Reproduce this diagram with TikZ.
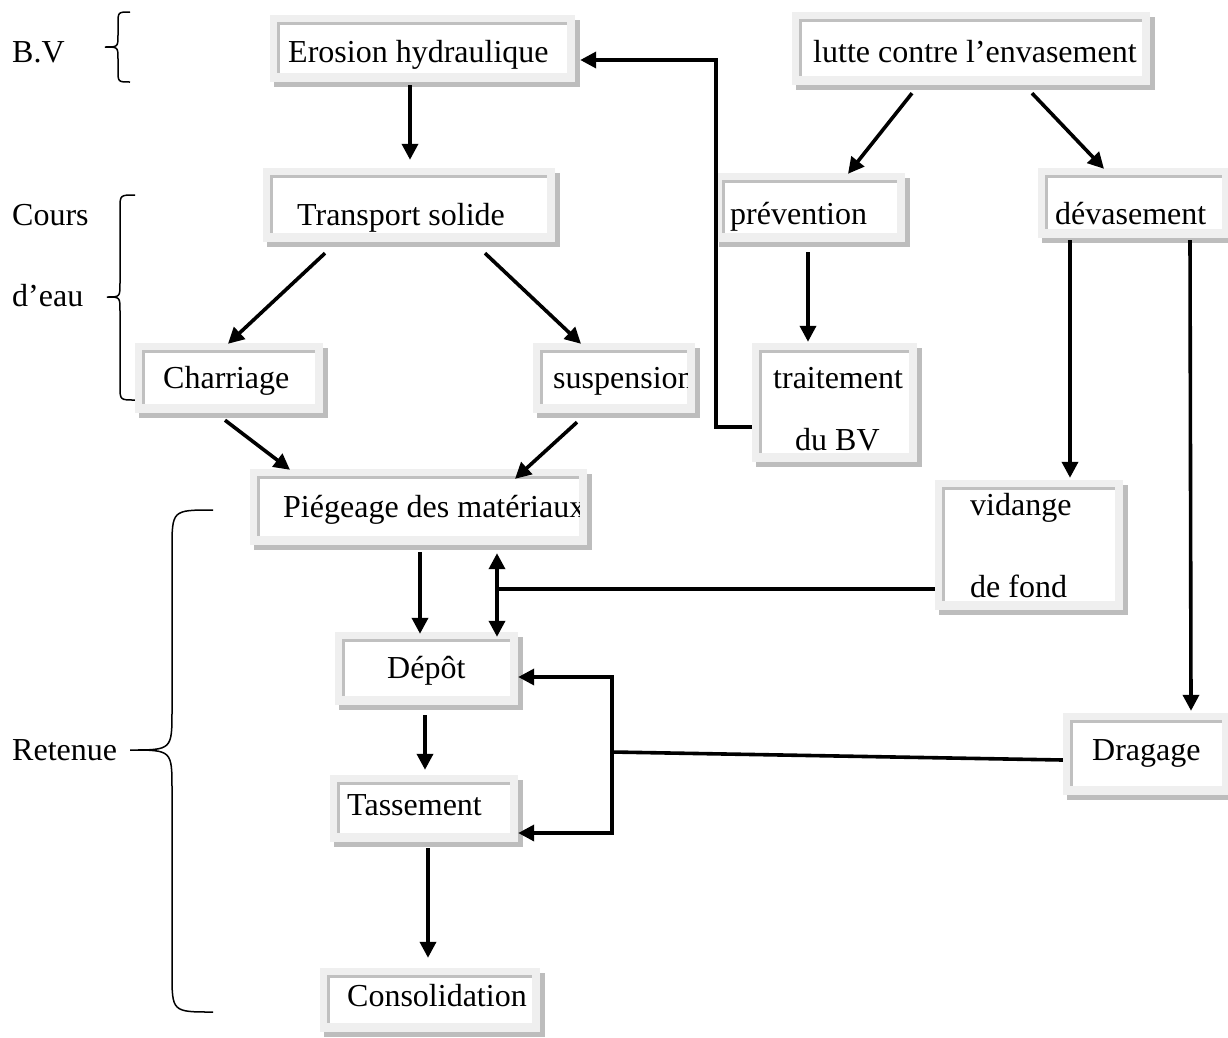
\documentclass[tikz,border=0pt]{standalone}
\usepackage{fontspec}
\setmainfont{Liberation Serif}
\usetikzlibrary{arrows.meta,calc,fit}
\definecolor{framec}{HTML}{EFEFEF}
\definecolor{linec}{HTML}{C0C0C0}
\definecolor{shadowc}{HTML}{BDBDBD}
\newcommand\mybox[6]{%
  \fill[shadowc] (#2+4,#3+5) rectangle (#4+5,#5+5);
  \fill[framec] (#2,#3) rectangle (#4,#5);
  \fill[linec] (#2+7,#3+7) rectangle (#4-8,#5-9);
  \fill[white] (#2+10,#3+10) rectangle (#4-8,#5-9);
  \node[fit={(#2,#3) (#4,#5)}, inner sep=0pt] (#1) {};
  \begin{scope}\clip (#2+10,#3+10) rectangle (#4-8,#5-9); #6 \end{scope}%
}
\newcommand\mybrace[7]{%
  \draw[brc] (#1,#4) .. controls (#2,#4) .. (#2,#4+#7) -- (#2,#5-#7)
    .. controls (#2,#5) .. (#3,#5) .. controls (#2,#5) .. (#2,#5+#7)
    -- (#2,#6-#7) .. controls (#2,#6) .. (#1,#6);
}
\tikzset{
  txt/.style={anchor=base west, inner sep=0pt, font=\fontsize{32}{38}\selectfont},
  arr/.style={line width=3.6pt, -{Triangle[length=16pt,width=16pt]}},
  darr/.style={line width=3.6pt, {Triangle[length=16pt,width=16pt]}-{Triangle[length=16pt,width=16pt]}},
  ln/.style={line width=3.6pt},
  brc/.style={line width=1.5pt},
}
\begin{document}
\begin{tikzpicture}[x=1pt,y=-1pt]
\useasboundingbox (0,0) rectangle (1228,1037);
\fill[white] (0,0) rectangle (1228,1037);

% side labels and braces
\node[txt] (lbv) at (12,62) {B.V};
\node[txt] (lcours) at (12,225) {Cours};
\node[txt] (leau) at (12,306) {d’eau};
\node[txt] (lret) at (12,760) {Retenue};
\mybrace{130}{118}{105}{12}{47}{82}{12}
\mybrace{135}{120}{107}{195}{297}{400}{14}
\mybrace{213}{172}{130}{510}{750}{1012}{40}

% boxes
\mybox{ero}{270}{15}{575}{82}{\node[txt] (ero-t) at (288,62) {Erosion hydraulique};}
\mybox{lutte}{792}{12}{1150}{85}{\node[txt] (lutte-t) at (813,62) {lutte contre l’envasement};}
\mybox{trans}{263}{168}{555}{242}{\node[txt] (trans-t) at (297,225) {Transport solide};}
\mybox{prev}{715}{173}{905}{242}{\node[txt] (prev-t) at (730,224) {prévention};}
\mybox{dev}{1038}{168}{1230}{238}{\node[txt] (dev-t) at (1055,224) {dévasement};}
\mybox{charr}{135}{343}{323}{413}{\node[txt] (charr-t) at (163,388) {Charriage};}
\mybox{susp}{533}{343}{695}{413}{\node[txt] (susp-t) at (553,388) {suspension};}
\mybox{trait}{752}{343}{917}{462}{\node[txt] (trait-t1) at (773,388) {traitement};
  \node[txt] (trait-t2) at (795,450) {du BV};}
\mybox{pieg}{250}{469}{587}{545}{\node[txt] (pieg-t) at (283,517) {Piégeage des matériaux};}
\mybox{vid}{935}{480}{1123}{610}{\node[txt] (vid-t1) at (970,515) {vidange};
  \node[txt] (vid-t2) at (970,597) {de fond};}
\mybox{dep}{335}{632}{518}{705}{\node[txt] (dep-t) at (387,678) {Dépôt};}
\mybox{drag}{1063}{713}{1230}{795}{\node[txt] (drag-t) at (1092,760) {Dragage};}
\mybox{tass}{330}{775}{518}{842}{\node[txt] (tass-t) at (347,815) {Tassement};}
\mybox{cons}{320}{968}{540}{1032}{\node[txt] (cons-t) at (347,1006) {Consolidation};}

% connectors
\draw[arr] ($(ero.south)+(-12.5,3)$) -- ($(trans.north)+(1,-8)$);
\draw[arr] ($(lutte.south)+(-59,8)$) -- ($(prev.north)+(38,1)$);
\draw[arr] ($(lutte.south)+(61,8)$) -- ($(dev.north)+(-30,1)$);
\draw[arr] ($(trans.south)+(-84,11)$) -- ($(charr.north)+(-1,1)$);
\draw[arr] ($(trans.south)+(76,11)$) -- ($(susp.north)+(-33,1)$);
\draw[arr] ($(charr.south)+(-4,7)$) -- ($(pieg.north)+(-128.5,1)$);
\draw[arr] ($(susp.south)+(-37,9)$) -- ($(pieg.north)+(96.5,10)$);
\draw[arr] ($(prev.south)+(-2,10)$) -- ($(trait.north)+(-26.5,-1)$);
\draw[arr] ($(trait.west)+(0,24.5)$) -- ++(-36,0) |- ($(ero.east)+(5,11.5)$);
\draw[arr] ($(pieg.south)+(1.5,7)$) -- ($(dep.north)+(-6.5,2)$);
\draw[darr] ($(pieg.south)+(78.5,8)$) -- ($(dep.north)+(70.5,5)$);
\draw[ln] ($(vid.west)+(0,44)$) -- ++(-438,0);
\draw[arr] ($(dev.south)+(-64,2)$) -- ($(vid.north)+(41,-2)$);
\draw[arr] ($(dev.south)+(56,2)$) -- ($(drag.north)+(44.5,-2)$);
\draw[arr] ($(dep.south)+(-1.5,10)$) -- ($(tass.north)+(1,-5)$);
\draw[arr] ($(tass.south)+(4,6)$) -- ($(cons.north)+(-2,-10)$);
\coordinate (jn) at (612,752);
\draw[ln] ($(drag.west)+(0,6)$) -- (jn);
\draw[arr] (jn) |- ($(dep.east)+(0,8.5)$);
\draw[arr] (jn) |- ($(tass.east)+(0,24.5)$);
\end{tikzpicture}
\end{document}
